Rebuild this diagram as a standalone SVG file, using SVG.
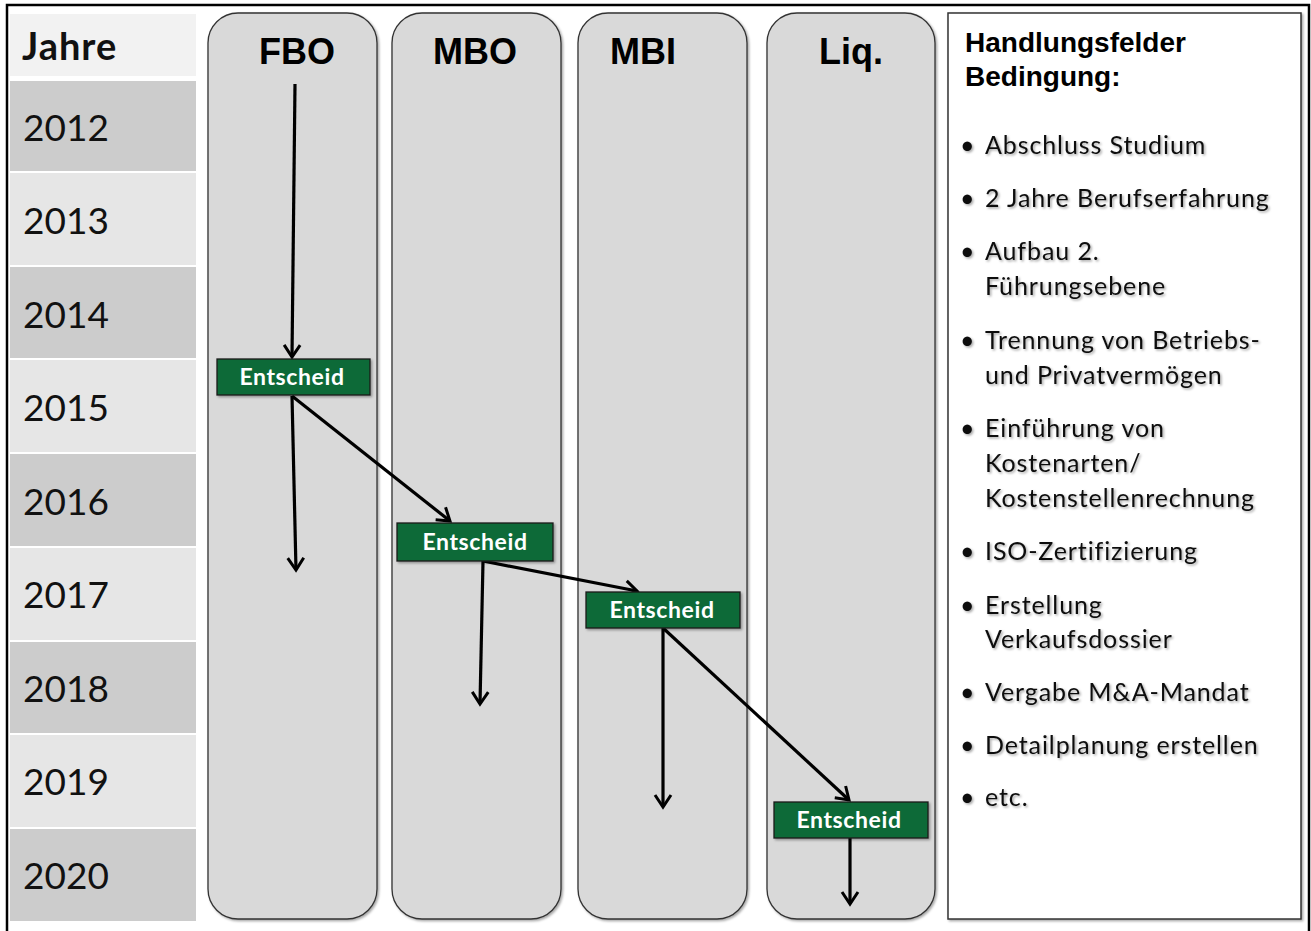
<svg xmlns="http://www.w3.org/2000/svg" width="1311" height="931" viewBox="0 0 1311 931">
<defs>
<style>
.yr{font-family:Lato,"Open Sans",sans-serif;font-size:37px;fill:#111}
.hd{font-family:"Liberation Sans",Arial,sans-serif;font-weight:bold;font-size:36px;fill:#000;text-anchor:middle}
.col{fill:#d9d9d9;stroke:#333;stroke-width:1.3}
.box{fill:#0f6b37;stroke:#1a1a1a;stroke-width:1.3}
.bt{font-family:Lato,"Open Sans",sans-serif;font-weight:bold;font-size:23px;letter-spacing:0.6px;fill:#fff;text-anchor:middle}
.li{font-family:Lato,"Open Sans",sans-serif;font-size:25px;letter-spacing:0.9px;fill:#111}
.rh{font-family:"Liberation Sans",Arial,sans-serif;font-weight:bold;font-size:28px;fill:#000}
.cn{stroke:#000;stroke-width:3.2;fill:none;marker-end:url(#ah)}
</style>
<marker id="ah" viewBox="0 0 20 20" refX="15" refY="10" markerWidth="20" markerHeight="20" markerUnits="userSpaceOnUse" orient="auto">
<path d="M3,2 L15,10 L3,18" fill="none" stroke="#000" stroke-width="3"/>
</marker>
<filter id="sh" x="-10%" y="-10%" width="130%" height="130%">
<feDropShadow dx="1.5" dy="1.5" stdDeviation="1.2" flood-color="#000" flood-opacity="0.35"/>
</filter>
</defs>
<rect x="0" y="0" width="1311" height="931" fill="#fff"/>
<rect x="7" y="5" width="1302" height="940" fill="none" stroke="#000" stroke-width="2.5"/>

<g id="table">
<rect x="10" y="14" width="186" height="62" fill="#f2f2f2"/>
<text x="22" y="60" font-family="Lato,'Open Sans',sans-serif" font-weight="bold" font-size="38" letter-spacing="1" fill="#111">Jahre</text>
<rect x="10" y="81" width="186" height="90" fill="#cccccc"/>
<text class="yr" x="23" y="141">2012</text>
<rect x="10" y="173" width="186" height="92" fill="#e6e6e6"/>
<text class="yr" x="23" y="234">2013</text>
<rect x="10" y="267" width="186" height="91" fill="#cccccc"/>
<text class="yr" x="23" y="328">2014</text>
<rect x="10" y="360" width="186" height="92" fill="#e6e6e6"/>
<text class="yr" x="23" y="421">2015</text>
<rect x="10" y="454" width="186" height="92" fill="#cccccc"/>
<text class="yr" x="23" y="515">2016</text>
<rect x="10" y="548" width="186" height="92" fill="#e6e6e6"/>
<text class="yr" x="23" y="608">2017</text>
<rect x="10" y="642" width="186" height="91" fill="#cccccc"/>
<text class="yr" x="23" y="702">2018</text>
<rect x="10" y="735" width="186" height="92" fill="#e6e6e6"/>
<text class="yr" x="23" y="795">2019</text>
<rect x="10" y="829" width="186" height="92" fill="#cccccc"/>
<text class="yr" x="23" y="889">2020</text>
</g>

<g id="col-fbo">
<rect class="col" x="208" y="13" width="169" height="906" rx="30" filter="url(#sh)"/>
<text class="hd" x="297" y="64">FBO</text>
</g>
<g id="col-mbo">
<rect class="col" x="392" y="13" width="169" height="906" rx="30" filter="url(#sh)"/>
<text class="hd" x="475" y="64">MBO</text>
</g>
<g id="col-mbi">
<rect class="col" x="578" y="13" width="169" height="906" rx="30" filter="url(#sh)"/>
<text class="hd" x="643" y="64">MBI</text>
</g>
<g id="col-liq">
<rect class="col" x="767" y="13" width="168" height="906" rx="30" filter="url(#sh)"/>
<text class="hd" x="851" y="64">Liq.</text>
</g>

<g id="connectors">
<line class="cn" x1="295" y1="84" x2="292" y2="357"/>
<line class="cn" x1="292" y1="396" x2="296" y2="570"/>
<line class="cn" x1="292" y1="396" x2="450" y2="521"/>
<line class="cn" x1="483" y1="561" x2="480" y2="704"/>
<line class="cn" x1="483" y1="561" x2="637" y2="591"/>
<line class="cn" x1="663" y1="628" x2="663" y2="807"/>
<line class="cn" x1="663" y1="628" x2="849" y2="800"/>
<line class="cn" x1="850" y1="838" x2="850" y2="904"/>
</g>

<g id="entscheid-1">
<rect class="box" x="217" y="359" width="153" height="36" filter="url(#sh)"/>
<text class="bt" x="292" y="385">Entscheid</text>
</g>
<g id="entscheid-2">
<rect class="box" x="397" y="523" width="156" height="38" filter="url(#sh)"/>
<text class="bt" x="475" y="550">Entscheid</text>
</g>
<g id="entscheid-3">
<rect class="box" x="586" y="592" width="154" height="36" filter="url(#sh)"/>
<text class="bt" x="662" y="618">Entscheid</text>
</g>
<g id="entscheid-4">
<rect class="box" x="774" y="802" width="154" height="36" filter="url(#sh)"/>
<text class="bt" x="849" y="828">Entscheid</text>
</g>

<g id="conditions">
<rect x="948" y="13" width="353" height="906" fill="#fff" stroke="#333" stroke-width="1.5" filter="url(#sh)"/>
<text class="rh" x="965" y="52">Handlungsfelder</text>
<text class="rh" x="965" y="86">Bedingung:</text>
<g filter="url(#sh)">
<text class="li" x="960" y="154">•</text><text class="li" x="985" y="154">Abschluss Studium</text>
<text class="li" x="960" y="207">•</text><text class="li" x="985" y="207">2 Jahre Berufserfahrung</text>
<text class="li" x="960" y="260">•</text><text class="li" x="985" y="260">Aufbau 2.</text>
<text class="li" x="985" y="295">Führungsebene</text>
<text class="li" x="960" y="349">•</text><text class="li" x="985" y="349">Trennung von Betriebs-</text>
<text class="li" x="985" y="384">und Privatvermögen</text>
<text class="li" x="960" y="437">•</text><text class="li" x="985" y="437">Einführung von</text>
<text class="li" x="985" y="472">Kostenarten/</text>
<text class="li" x="985" y="507">Kostenstellenrechnung</text>
<text class="li" x="960" y="560">•</text><text class="li" x="985" y="560">ISO-Zertifizierung</text>
<text class="li" x="960" y="614">•</text><text class="li" x="985" y="614">Erstellung</text>
<text class="li" x="985" y="648">Verkaufsdossier</text>
<text class="li" x="960" y="701">•</text><text class="li" x="985" y="701">Vergabe M&amp;A-Mandat</text>
<text class="li" x="960" y="754">•</text><text class="li" x="985" y="754">Detailplanung erstellen</text>
<text class="li" x="960" y="806">•</text><text class="li" x="985" y="806">etc.</text>
</g>
</g>
</svg>
